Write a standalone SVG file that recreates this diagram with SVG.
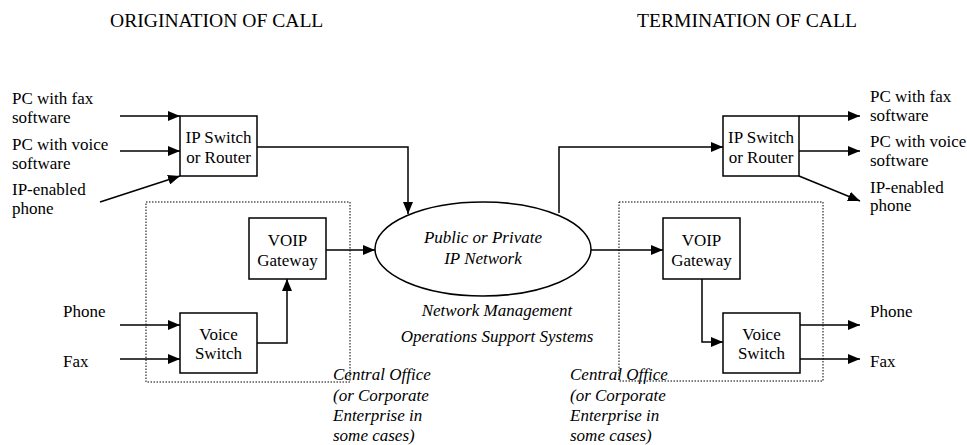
<svg xmlns="http://www.w3.org/2000/svg" width="967" height="445" viewBox="0 0 967 445" font-family="'Liberation Serif', 'DejaVu Serif', 'Times New Roman', Times, serif">
<defs>
<marker id="ah" markerUnits="userSpaceOnUse" markerWidth="12" markerHeight="10" refX="12" refY="5" orient="auto">
<path d="M0,0 L12,5 L0,10 z" fill="#000"/>
</marker>
<style>
text{font-family:'Liberation Serif','DejaVu Serif','Times New Roman',Times,serif;font-size:17px;fill:#000}
.t{font-size:19.6px}
.i{font-style:italic}
.m{text-anchor:middle}
.box{fill:#fff;stroke:#000;stroke-width:1.5}
.dot{fill:none;stroke:#000;stroke-width:1;stroke-dasharray:1.5,1.5}
.c{fill:none;stroke:#000;stroke-width:1.5;marker-end:url(#ah)}
</style>
</defs>
<rect width="967" height="445" fill="#fff"/>
<text class="t" x="110" y="27">ORIGINATION OF CALL</text>
<text class="t" x="637" y="27">TERMINATION OF CALL</text>

<g id="co-left">
<rect class="dot" x="146" y="202" width="204" height="180"/>
<text class="i" x="333" y="380">Central Office</text>
<text class="i" x="333" y="401">(or Corporate</text>
<text class="i" x="333" y="421">Enterprise in</text>
<text class="i" x="333" y="441">some cases)</text>
</g>
<g id="co-right">
<rect class="dot" x="619" y="202" width="204" height="179"/>
<text class="i" x="570" y="380">Central Office</text>
<text class="i" x="570" y="401">(or Corporate</text>
<text class="i" x="570" y="421">Enterprise in</text>
<text class="i" x="570" y="441">some cases)</text>
</g>

<g id="connectors">
<line class="c" x1="120" y1="116" x2="180" y2="116"/>
<line class="c" x1="120" y1="151" x2="180" y2="151"/>
<line class="c" x1="100" y1="202" x2="180" y2="176"/>
<polyline class="c" points="257,147 408,147 408,214"/>
<line class="c" x1="326" y1="250" x2="375" y2="250"/>
<polyline class="c" points="257,343 287,343 287,279"/>
<line class="c" x1="120" y1="325" x2="180" y2="325"/>
<line class="c" x1="120" y1="359" x2="180" y2="359"/>
<polyline class="c" points="559,213 559,147 723,147"/>
<line class="c" x1="591" y1="250" x2="663" y2="250"/>
<line class="c" x1="799" y1="116" x2="860" y2="116"/>
<line class="c" x1="799" y1="151" x2="860" y2="151"/>
<line class="c" x1="799" y1="176" x2="860" y2="201"/>
<polyline class="c" points="702,279 702,342 723,342"/>
<line class="c" x1="800" y1="325" x2="860" y2="325"/>
<line class="c" x1="800" y1="359" x2="860" y2="359"/>
</g>

<g id="src-left">
<text x="12" y="104">PC with fax</text>
<text x="12" y="123">software</text>
<text x="12" y="150">PC with voice</text>
<text x="12" y="169">software</text>
<text x="12" y="195">IP-enabled</text>
<text x="12" y="214">phone</text>
<text x="63" y="317">Phone</text>
<text x="63" y="367">Fax</text>
</g>
<g id="dst-right">
<text x="870" y="102">PC with fax</text>
<text x="870" y="121">software</text>
<text x="870" y="147">PC with voice</text>
<text x="870" y="166">software</text>
<text x="870" y="193">IP-enabled</text>
<text x="870" y="211">phone</text>
<text x="870" y="317">Phone</text>
<text x="870" y="367">Fax</text>
</g>

<g id="ipswitch-left">
<rect class="box" x="180" y="116" width="77" height="60"/>
<text class="m" x="218.5" y="143">IP Switch</text>
<text class="m" x="218.5" y="163">or Router</text>
</g>
<g id="voip-left">
<rect class="box" x="249" y="218" width="77" height="61"/>
<text class="m" x="287.5" y="246">VOIP</text>
<text class="m" x="287.5" y="266">Gateway</text>
</g>
<g id="voiceswitch-left">
<rect class="box" x="180" y="313" width="77" height="60"/>
<text class="m" x="218.5" y="340">Voice</text>
<text class="m" x="218.5" y="359">Switch</text>
</g>
<g id="network">
<ellipse cx="483" cy="249" rx="108" ry="47" fill="#fff" stroke="#000" stroke-width="1.5"/>
<text class="i m" x="483" y="243">Public or Private</text>
<text class="i m" x="483" y="264">IP Network</text>
<text class="i m" x="497" y="316">Network Management</text>
<text class="i m" x="497" y="342">Operations Support Systems</text>
</g>
<g id="ipswitch-right">
<rect class="box" x="723" y="116" width="76" height="60"/>
<text class="m" x="761" y="143">IP Switch</text>
<text class="m" x="761" y="163">or Router</text>
</g>
<g id="voip-right">
<rect class="box" x="663" y="218" width="77" height="61"/>
<text class="m" x="701.5" y="246">VOIP</text>
<text class="m" x="701.5" y="266">Gateway</text>
</g>
<g id="voiceswitch-right">
<rect class="box" x="723" y="313" width="77" height="60"/>
<text class="m" x="761.5" y="340">Voice</text>
<text class="m" x="761.5" y="359">Switch</text>
</g>
</svg>
